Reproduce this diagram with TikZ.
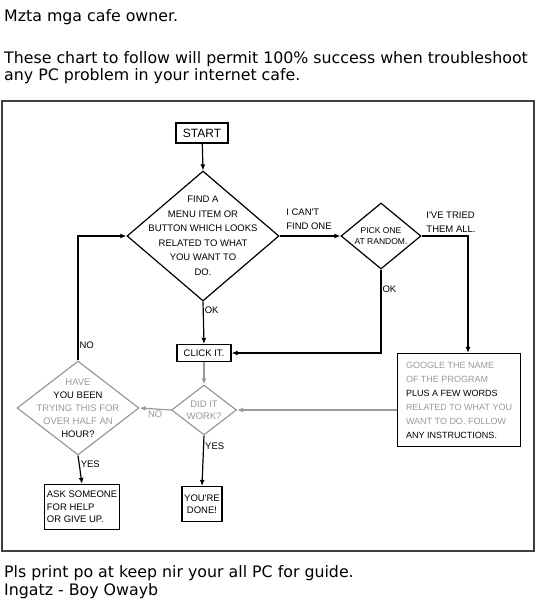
\documentclass[tikz,border=0pt]{standalone}
\usepackage{fontspec}
\setmainfont{DejaVu Sans}
\newfontfamily\hand{Liberation Sans}
\usetikzlibrary{shapes.geometric,arrows.meta}

\colorlet{faint}{black!40}
\tikzset{
  box/.style={draw,line width=1.2pt,inner sep=2pt,font=\hand\fontsize{9.5}{12.5}\selectfont,align=center},
  decision/.style={draw,diamond,line width=1.2pt,inner sep=0pt},
  dtext/.style={font=\hand\fontsize{9.5}{14.5}\selectfont,align=center},
  lbl/.style={font=\hand\fontsize{9.5}{14}\selectfont,align=left,inner sep=1pt},
  head/.style={anchor=base west,inner sep=0,font=\fontsize{15.8}{18}\selectfont},
  flow/.style={line width=1.2pt,-{Latex[length=6pt,width=5pt]}},
  pale/.style={draw=faint,text=faint}
}

\begin{document}
\begin{tikzpicture}[x=1pt,y=-1pt]
        \useasboundingbox (0,0) rectangle (537,604);

        % header and footer
        \node[head] (hdr1) at (4,22) {Mzta mga cafe owner.};
        \node[head] (hdr2) at (4,64) {These chart to follow will permit 100\% success when troubleshoot};
        \node[head] (hdr3) at (4,81) {any PC problem in your internet cafe.};
        \node[head] (ftr1) at (4,577) {Pls print po at keep nir your all PC for guide.};
        \node[head] (ftr2) at (4,595) {Ingatz - Boy Owayb};

        \draw[line width=1.5pt,black!75] (2,101) rectangle (534,551);

        % nodes
        \node[box,minimum width=52pt,minimum height=20pt,font=\hand\fontsize{12}{13}\selectfont] (start) at (202,133) {START};
        \node[decision,minimum width=152pt,minimum height=130pt] (find) at (203,236) {};
        \node[dtext] at (find) {FIND A\\MENU ITEM OR\\BUTTON WHICH LOOKS\\RELATED TO WHAT\\YOU WANT TO\\DO.};
        \node[decision,minimum width=80pt,minimum height=66pt] (pick) at (381,236) {};
        \node[dtext,font=\hand\fontsize{8.5}{11.5}\selectfont] at (pick) {PICK ONE\\AT RANDOM.};
        \node[box,minimum width=54pt,minimum height=17pt] (click) at (204,353) {CLICK IT.};
        \node[decision,pale,minimum width=65pt,minimum height=50pt] (work) at (204,410) {};
        \node[dtext,text=faint,font=\hand\fontsize{9.5}{12}\selectfont] at (work) {DID IT\\WORK?};
        \node[decision,pale,minimum width=122pt,minimum height=94pt] (hour) at (78,408) {};
        \node[dtext,text=faint,font=\hand\fontsize{9.5}{13}\selectfont] at (hour) {HAVE\\\textcolor{black}{YOU BEEN}\\TRYING THIS FOR\\OVER HALF AN\\\textcolor{black}{HOUR?}};
        \node[box,minimum width=123pt,minimum height=93pt,text=faint,align=left,font=\hand\fontsize{9}{14}\selectfont] (google) at (459,400)
          {GOOGLE THE NAME\\OF THE PROGRAM\\\textcolor{black}{PLUS A FEW WORDS}\\RELATED TO WHAT YOU\\WANT TO DO. FOLLOW\\\textcolor{black}{ANY INSTRUCTIONS.}};
        \node[box,minimum width=73pt,minimum height=45pt,align=left] (ask) at (82,507) {ASK SOMEONE\\FOR HELP\\OR GIVE UP.};
        \node[box,minimum width=40pt,minimum height=35pt] (done) at (202,504) {YOU'RE\\DONE!};
        \coordinate (tried) at (468,236);

        % connectors
        \draw[flow] (start) -- (find.north);
        \draw[flow] (find.east) -- (pick.west);
        \node[lbl,anchor=south] at (309,231) {I CAN'T\\FIND ONE};
        \draw[flow] (pick.east) -- (tried) -- (tried |- google.north);
        \node[lbl,anchor=south] at (451,234) {I'VE TRIED\\THEM ALL.};
        \draw[flow] (find.south) -- node[lbl,right,pos=0.2] {OK} (click.north);
        \draw[flow] (pick.south) |- node[lbl,right,pos=0.12] {OK} (click.east);
        \draw[flow,faint] (click.south) -- (work.north);
        \draw[flow,faint] (work.east -| google.west) -- (work.east);
        \draw[flow,faint] (work.west) -- node[lbl,below,text=faint] {NO} (hour.east);
        \draw[flow] (hour.north) |- node[lbl,right,pos=0.06] {NO} (find.west);
        \draw[flow] (hour.south) -- node[lbl,right,pos=0.3] {YES} (ask.north);
        \draw[flow] (work.south) -- node[lbl,right,pos=0.22] {YES} (done.north);
\end{tikzpicture}
\end{document}
